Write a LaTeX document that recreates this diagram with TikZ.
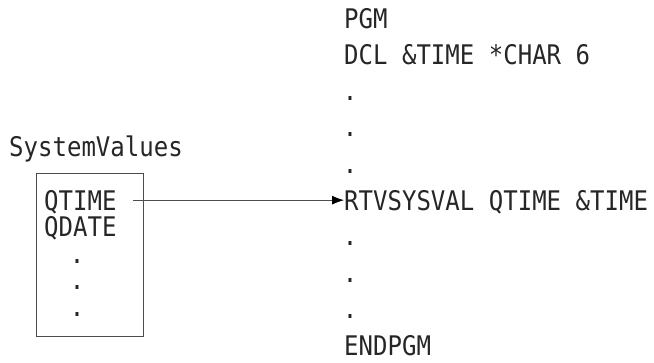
\documentclass[tikz,border=0pt]{standalone}
\usepackage{fontspec}
\newfontfamily\codefont[FakeStretch = 0.89]{DejaVu Sans Mono}
\usetikzlibrary{arrows.meta}

\begin{document}
\begin{tikzpicture}[x = 1pt, y = -1pt, every node/.style={inner sep = 0, text = black!85, font = \codefont\fontsize{27}{27}\selectfont}]

        \useasboundingbox (0, 0) rectangle (654, 362);

        % System values
        \node (sv) [anchor = base west] at (9, 156) {SystemValues};
        \node (svbox) [draw = black!70, line width = 0.8pt, minimum width = 107pt, minimum height = 163pt, anchor = north west] at (36, 173) {};

        %% Entries
        \node (qtime) [anchor = base west, text height = 19.7pt, text depth = 0pt] at (44, 210) {QTIME};
        \node (qdate) [anchor = base west] at (44, 236.5) {QDATE};
        \node (svdot1) [anchor = base] at (77, 263) {.};
        \node (svdot2) [anchor = base] at (77, 289.5) {.};
        \node (svdot3) [anchor = base] at (77, 316) {.};

        % Program
        \node (pgm) [anchor = base west] at (344, 28) {PGM};
        \node (dcl) [anchor = base west] at (344, 64.3) {DCL \&TIME *CHAR 6};
        \node (pdot1) [anchor = base] at (350, 100.6) {.};
        \node (pdot2) [anchor = base] at (350, 136.9) {.};
        \node (pdot3) [anchor = base] at (350, 173.2) {.};
        \node (rtv) [anchor = base west, text height = 19.7pt, text depth = 0pt] at (344, 210) {RTVSYSVAL QTIME \&TIME};
        \node (pdot4) [anchor = base] at (350, 245.8) {.};
        \node (pdot5) [anchor = base] at (350, 282.1) {.};
        \node (pdot6) [anchor = base] at (350, 318.4) {.};
        \node (endpgm) [anchor = base west] at (344, 355) {ENDPGM};

        %% Retrieve QTIME
        \draw [-{Latex[length = 12pt, width = 9pt, color = black]}, black!70, line width = 0.8pt] ([xshift = 16pt]qtime.east) -- (rtv.west);

    \end{tikzpicture}
\end{document}
